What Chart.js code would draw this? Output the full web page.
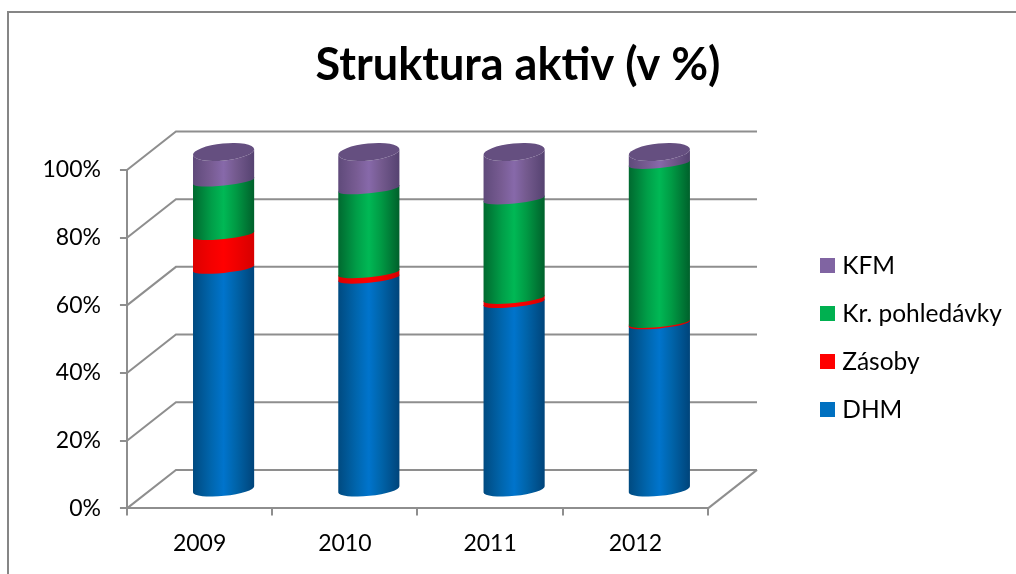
<!DOCTYPE html>
<html><head><meta charset="utf-8">
<style>html,body{margin:0;padding:0;background:#fff;overflow:hidden}#wrap{position:relative;width:1016px;height:574px}</style>
<script src="https://cdn.jsdelivr.net/npm/chart.js@4/dist/chart.umd.min.js"></script>
</head><body><div id="wrap"><canvas id="c" width="1016" height="574"></canvas></div>
<script>
const categories = ['2009','2010','2011','2012'];
const dhm = [65.6,62.7,55.5,49.2];
const zasoby = [10.0,1.6,1.2,0.4];
const pohledavky = [15.8,24.8,29.4,47.0];
const kfm = [8.6,10.9,13.9,3.4];
const yTicks = [0,20,40,60,80,100];

const FONT = 'Lato, Carlito, Calibri, sans-serif';
const GRID = '#8e8e8e';
const DEPTH_X = 49, DEPTH_Y = -38.5;   // full depth of the 3D box
const BAR_DX = 24, BAR_DY = -18;       // cylinders stand mid-depth
const ROT = -0.1, RY_CAP = 8.5, RY_BASE = 6.5, RY_CUT = 4.5;

const edgeColors = {
  DHM:['#004a80','#0066ae','#0074cc','#0064aa','#00447a'],
  'Zásoby':['#dc0000','#f40000','#ff0000','#f00000','#d60000'],
  'Kr. pohledávky':['#00692f','#009e48','#00b855','#009a44','#00602b'],
  KFM:['#5f4a7a','#785c93','#8769aa','#745a8e','#554270']
};
const capColors = {KFM:'#654f80'};

function swatch(color){
  const s = document.createElement('canvas');
  s.width = 15; s.height = 15;
  const c = s.getContext('2d');
  c.fillStyle = color; c.fillRect(0,0,15,15);
  return s;
}

function drawCylinders(chart){
  const ctx = chart.ctx;
  chart.getSortedVisibleDatasetMetas().slice().sort((a,b)=>a.index-b.index).forEach(meta=>{
    const ds = chart.data.datasets[meta.index];
    const stops = edgeColors[ds.label];
    const isTop = !!capColors[ds.label];
    meta.data.forEach((el,i)=>{
      const p = el.getProps(['x','y','base','width'],true);
      const cx = p.x+BAR_DX, rx = p.width/2;
      const top = p.y+BAR_DY - (isTop?0:1);   // tuck under the next segment
      const bot = p.base+BAR_DY;
      const ryTop = isTop?RY_CAP:RY_CUT;
      const ryBot = meta.index===0?RY_BASE:RY_CUT;
      const g = ctx.createLinearGradient(cx-rx,0,cx+rx,0);
      [0,0.3,0.5,0.7,1].forEach((o,k)=>g.addColorStop(o,stops[k]));
      ctx.save();
      ctx.fillStyle = g;
      ctx.beginPath();
      ctx.ellipse(cx,top,rx,ryTop,ROT,0,Math.PI,false);
      ctx.ellipse(cx,bot,rx,ryBot,ROT,Math.PI,0,true);
      ctx.closePath();
      ctx.fill();
      if(isTop){
        ctx.fillStyle = capColors[ds.label];
        ctx.beginPath();
        ctx.ellipse(cx,top,rx,RY_CAP,ROT,0,Math.PI*2);
        ctx.fill();
      }
      ctx.restore();
    });
  });
}

const walls = {
  id:'walls',
  afterLayout(chart){
    const l = chart.legend, w = l.right-l.left, h = l.bottom-l.top;
    l.left = 801.5; l.right = l.left+w; l.top = 230; l.bottom = l.top+h;
    const t = chart.titleBlock;
    t.left = 0; t.right = 1036;
  },
  beforeDatasetsDraw(chart){
    const {ctx,scales:{y},chartArea:a} = chart;
    ctx.save();
    ctx.strokeStyle = GRID; ctx.lineWidth = 2;
    yTicks.forEach(t=>{
      const py = y.getPixelForValue(t);
      ctx.beginPath();
      ctx.moveTo(a.left,py);
      ctx.lineTo(a.left+DEPTH_X,py+DEPTH_Y);
      ctx.lineTo(a.right+DEPTH_X,py+DEPTH_Y);
      ctx.stroke();
    });
    const y0 = y.getPixelForValue(0);
    ctx.beginPath();
    ctx.moveTo(a.right,y0);
    ctx.lineTo(a.right+DEPTH_X,y0+DEPTH_Y);
    ctx.stroke();
    ctx.restore();
    drawCylinders(chart);
  },
  beforeDatasetDraw(){ return false; }
};

const frame = {
  id:'frame',
  beforeDraw(chart){
    const ctx = chart.ctx;
    ctx.save();
    ctx.fillStyle='#fff'; ctx.fillRect(0,0,1016,574);
    ctx.strokeStyle='#868686'; ctx.lineWidth=2;
    ctx.beginPath();
    ctx.moveTo(8,574); ctx.lineTo(8,12); ctx.lineTo(1016,12);
    ctx.stroke();
    ctx.restore();
  }
};

new Chart(document.getElementById('c'),{
  type:'bar',
  data:{labels:categories,datasets:[
    {label:'DHM',data:dhm,backgroundColor:'#0070C0'},
    {label:'Zásoby',data:zasoby,backgroundColor:'#FF0000'},
    {label:'Kr. pohledávky',data:pohledavky,backgroundColor:'#00B050'},
    {label:'KFM',data:kfm,backgroundColor:'#8064A2'}
  ]},
  plugins:[frame,walls],
  options:{
    responsive:false,animation:false,
    barPercentage:0.423,categoryPercentage:1,
    layout:{padding:{left:23.5,right:308,top:0,bottom:3}},
    plugins:{
      tooltip:{enabled:false},
      title:{display:true,text:'Struktura aktiv (v %)',color:'#000',
        font:{family:FONT,size:45,weight:'bold'},padding:{top:38,bottom:78}},
      legend:{position:'chartArea',align:'start',reverse:true,
        labels:{usePointStyle:true,pointStyleWidth:5,boxHeight:15,padding:23.5,color:'#000',
          font:{family:FONT,size:24.5},
          generateLabels(chart){
            const items = Chart.defaults.plugins.legend.labels.generateLabels(chart);
            items.forEach(i=>{ i.pointStyle = swatch(chart.data.datasets[i.datasetIndex].backgroundColor); });
            return items;
          }}}
    },
    scales:{
      x:{stacked:true,
        grid:{drawOnChartArea:false,tickLength:7,color:GRID,lineWidth:2},
        border:{color:GRID,width:2},
        ticks:{color:'#000',font:{family:FONT,size:23},padding:14,maxRotation:0}},
      y:{stacked:true,min:0,max:100,
        afterBuildTicks(s){s.ticks=yTicks.map(v=>({value:v}));},
        grid:{drawOnChartArea:false,tickLength:7,color:GRID,lineWidth:2},
        border:{color:GRID,width:2},
        ticks:{color:'#000',font:{family:FONT,size:23},padding:19,callback:v=>v+'%'}}
    }
  }
});
</script></body></html>
